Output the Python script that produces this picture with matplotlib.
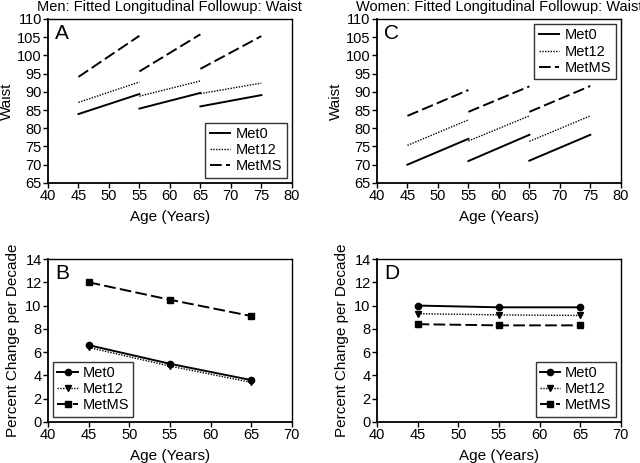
import matplotlib
matplotlib.use("Agg")
import matplotlib.pyplot as plt

plt.rcParams['font.family'] = ['Liberation Sans', 'DejaVu Sans']

# cohort segments: start age -> start+10
starts = [45, 55, 65]
groups = ["Met0", "Met12", "MetMS"]

# men waist (start value, end value) per cohort
men_met0 = [(83.9, 89.4), (85.4, 89.7), (86.0, 89.1)]
men_met12 = [(87.1, 92.7), (88.8, 93.0), (89.5, 92.4)]
men_metms = [(94.1, 105.4), (95.6, 105.8), (96.3, 105.3)]

# women waist
women_met0 = [(70.0, 77.1), (71.0, 78.2), (71.1, 78.2)]
women_met12 = [(75.3, 82.3), (76.5, 83.4), (76.4, 83.4)]
women_metms = [(83.4, 90.5), (84.5, 91.5), (84.5, 91.6)]

# percent change per decade
pct_ages = [45, 55, 65]
men_pct_met0 = [6.6, 5.0, 3.6]
men_pct_met12 = [6.4, 4.8, 3.4]
men_pct_metms = [12.0, 10.5, 9.1]
women_pct_met0 = [10.0, 9.85, 9.85]
women_pct_met12 = [9.3, 9.2, 9.15]
women_pct_metms = [8.4, 8.3, 8.3]

styles = ["-", (0, (1, 1)), (0, (6, 2.2))]
widths = [1.4, 1.0, 1.4]
markers = ["o", "v", "s"]

fig = plt.figure(figsize=(6.4, 4.63), dpi=100)
axA = fig.add_axes([0.075, 0.605, 0.381, 0.354])
axC = fig.add_axes([0.589, 0.605, 0.381, 0.354])
axB = fig.add_axes([0.075, 0.0886, 0.381, 0.352])
axD = fig.add_axes([0.589, 0.0886, 0.381, 0.352])


def style_axes(ax):
    for s in ["top", "right"]:
        ax.spines[s].set_linewidth(1.0)
    for s in ["left", "bottom"]:
        ax.spines[s].set_linewidth(1.3)
    ax.tick_params(direction="out", length=3.5, labelsize=10.5, width=1, pad=1)
    ax.set_xlabel("Age (Years)", fontsize=11, labelpad=5)


def waist_panel(ax, series, letter, title, loc):
    for k, (name, segs) in enumerate(zip(groups, series)):
        for i, (s, (y0, y1)) in enumerate(zip(starts, segs)):
            ax.plot([s, s + 10], [y0, y1], color="black", linestyle=styles[k],
                    linewidth=widths[k], label=name if i == 0 else None)
    ax.set_xlim(40, 80)
    ax.set_ylim(65, 110)
    ax.set_xticks(range(40, 81, 5))
    ax.set_yticks(range(65, 111, 5))
    ax.set_ylabel("Waist", fontsize=11, labelpad=2)
    ax.text(0.03, 0.97, letter, transform=ax.transAxes, fontsize=15, va="top", ha="left")
    ax.set_title(title, fontsize=10.5, pad=6)
    leg = ax.legend(loc=loc, fontsize=10.5, fancybox=False, edgecolor="black",
                    handlelength=1.4, handletextpad=0.4, borderpad=0.3, labelspacing=0.15,
                    borderaxespad=0.35)
    leg.get_frame().set_linewidth(1.0)
    style_axes(ax)


def pct_panel(ax, series, letter, loc):
    for k, (name, vals) in enumerate(zip(groups, series)):
        ax.plot(pct_ages, vals, color="black", linestyle=styles[k], linewidth=widths[k],
                marker=markers[k], markersize=4.5, label=name)
    ax.set_xlim(40, 70)
    ax.set_ylim(0, 14)
    ax.set_xticks(range(40, 71, 5))
    ax.set_yticks(range(0, 15, 2))
    ax.set_ylabel("Percent Change per Decade", fontsize=11, labelpad=4)
    ax.text(0.03, 0.97, letter, transform=ax.transAxes, fontsize=15, va="top", ha="left")
    leg = ax.legend(loc=loc, fontsize=10.5, fancybox=False, edgecolor="black",
                    handlelength=1.4, handletextpad=0.3, borderpad=0.3, labelspacing=0.15,
                    borderaxespad=0.35)
    leg.get_frame().set_linewidth(1.0)
    style_axes(ax)


waist_panel(axA, [men_met0, men_met12, men_metms], "A",
            "Men: Fitted Longitudinal Followup: Waist", "lower right")
waist_panel(axC, [women_met0, women_met12, women_metms], "C",
            "Women: Fitted Longitudinal Followup: Waist", "upper right")
pct_panel(axB, [men_pct_met0, men_pct_met12, men_pct_metms], "B", "lower left")
pct_panel(axD, [women_pct_met0, women_pct_met12, women_pct_metms], "D", "lower right")

fig.savefig("out.png", dpi=100)
